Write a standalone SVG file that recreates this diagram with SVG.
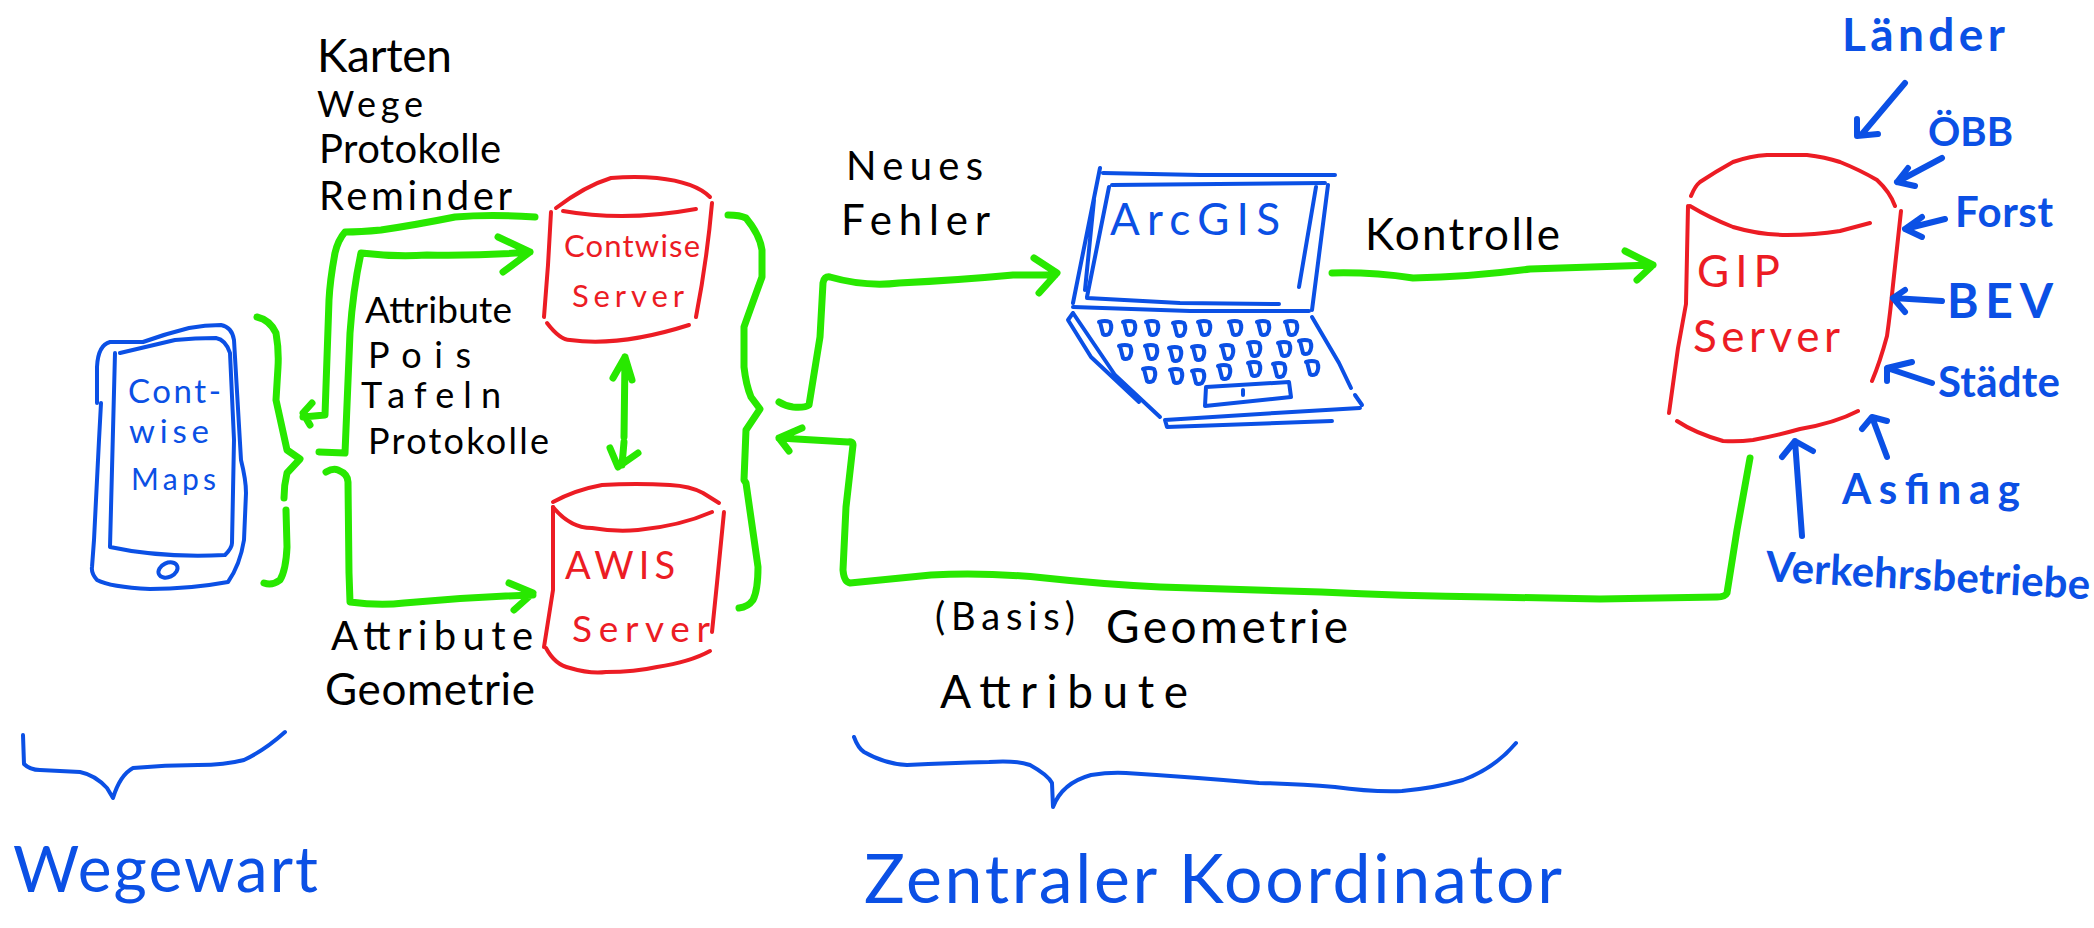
<svg xmlns="http://www.w3.org/2000/svg" xmlns:xlink="http://www.w3.org/1999/xlink" width="2094" height="928" viewBox="0 0 2094 928">
<style>
text{font-family:"Lato","Liberation Sans",sans-serif}
.k{fill:#000}.r{fill:#ec1c24}.b{fill:#0b50e5}.bb{fill:#0b50e5;font-weight:700}
path,ellipse{fill:none;stroke-linecap:round;stroke-linejoin:round}
.sr{stroke:#ec1c24;stroke-width:4}
.sb{stroke:#0b50e5;stroke-width:4}
.sbt{stroke:#0b50e5;stroke-width:6}
.sg{stroke:#28e800;stroke-width:7}
</style>
<defs>
<path id="key" class="sb" d="M-6 -6Q0 -8 5 -6Q8 0 4 6Q0 8 -2 6L-5 -6"/>
</defs>
<rect width="2094" height="928" fill="#fff"/>

<g id="connectors">
<path class="sg" d="M535 217Q490 214 455 217Q415 225 381 230Q360 232 345 232Q338 240 335 253Q330 280 329 300L325 415L303 417M312 403L303 413L310 425"/>
<path class="sg" d="M319 452L345 453L350 333Q353 290 361 253Q395 257 427 255Q480 256 530 252M498 237L530 252L503 272"/>
<path class="sg" d="M326 472Q333 468 338 470Q348 474 348 482L349 573L350 602Q380 606 404 603Q470 597 533 595M509 583L533 593L514 610"/>
<path class="sg" d="M625 357L624 437M624 442L622 465M613 378L625 357L632 380M610 448L618 467L638 453"/>
<path class="sg" d="M779 402Q785 406 793 407Q805 408 809 405L820 337L823 283Q824 276 830 277Q865 287 899 283Q960 280 1013 275L1055 275M1034 258L1057 273L1039 293"/>
<path class="sg" d="M1332 273Q1372 272 1413 278Q1470 277 1530 269L1653 265M1625 251L1653 265L1637 280"/>
<path class="sg" d="M1750 458L1737 530L1727 593Q1725 597 1717 597L1600 599L1490 597Q1400 596 1321 592L1160 587Q1100 584 1045 578Q985 572 931 575L850 583Q844 582 843 570L846 507L853 445Q853 441 848 442L779 438M802 428L779 438L789 451"/>
</g>

<g id="phone">
<path class="sb" d="M97 403L97 367Q98 345 110 342L143 342Q165 334 189 328Q205 325 221 325Q232 327 234 340L241 460Q246 480 246 493L244 540Q240 565 228 582Q190 589 150 589Q110 587 97 580Q91 573 92 567L94 540L99 440L101 403"/>
<path class="sb" d="M115 353L110 547Q160 558 225 555Q232 548 232 543L234 440L230 353Q226 340 216 338Q195 338 175 340L120 353"/>
<ellipse class="sb" cx="168" cy="570" rx="10" ry="7" transform="rotate(-25 168 570)"/>
<text class="b" x="128" y="403" font-size="33" textLength="93">Cont-</text>
<text class="b" x="129" y="443" font-size="33" textLength="80">wise</text>
<text class="b" x="131" y="490" font-size="30" textLength="85">Maps</text>
</g>

<g id="brace-phone">
<path class="sg" d="M257 317Q270 320 276 333Q279 350 278 367L276 400L287 450L300 459L287 473Q284 485 284 498M286 510L287 547Q286 570 280 580Q272 586 264 583"/>
</g>
<g id="brace-servers">
<path class="sg" d="M728 215Q740 215 746 218Q760 235 762 250L762 277Q750 310 744 327L744 367Q746 385 751 397L760 409L746 430L744 480L746 483L758 567Q758 590 753 600Q748 607 739 608"/>
</g>

<g id="contwise-server">
<path class="sr" d="M551 212L548 265L544 317"/>
<path class="sr" d="M556 208Q585 186 611 178Q635 176 657 178Q695 182 710 197"/>
<path class="sr" d="M563 211Q625 222 696 209"/>
<path class="sr" d="M712 203Q707 260 696 317"/>
<path class="sr" d="M547 323Q560 340 570 340Q620 347 689 325"/>
<text class="r" x="564" y="257" font-size="31" textLength="136">Contwise</text>
<text class="r" x="572" y="307" font-size="31" textLength="112">Server</text>
</g>

<g id="awis-server">
<path class="sr" d="M553 502Q575 490 602 485Q636 483 670 485Q690 486 703 493L719 503"/>
<path class="sr" d="M553 507Q570 528 592 528Q615 532 638 530Q680 526 712 512"/>
<path class="sr" d="M553 507L553 590L544 647"/>
<path class="sr" d="M724 512L717 583L712 632"/>
<path class="sr" d="M546 648Q555 665 570 668Q590 674 606 672Q635 672 657 667Q690 662 710 651"/>
<text class="r" x="565" y="579" font-size="38" textLength="110">AWIS</text>
<text class="r" x="572" y="642" font-size="37" textLength="138">Server</text>
</g>

<g id="laptop">
<path class="sb" d="M1100 168L1073 303M1094 200L1085 290M1103 173L1200 175L1335 175M1328 185L1312 310"/>
<path class="sb" d="M1112 185L1325 183M1109 187L1087 297M1087 298L1180 303L1279 304M1316 187L1299 287"/>
<path class="sb" d="M1073 307L1190 311L1309 311"/>
<path class="sb" d="M1073 313L1115 375L1160 417M1073 313L1068 320L1091 357L1139 402"/>
<path class="sb" d="M1312 317L1339 363L1351 388M1355 395L1362 405"/>
<path class="sb" d="M1360 408L1275 413L1165 420L1167 427L1332 421"/>
<path class="sb" d="M1206 387L1289 382L1291 397L1205 406Z"/>
<path class="sb" d="M1243 390L1243 395"/>
<use href="#key" x="1105" y="328"/><use href="#key" x="1129" y="328"/><use href="#key" x="1152" y="328"/><use href="#key" x="1179" y="329"/><use href="#key" x="1204" y="328"/><use href="#key" x="1235" y="328"/><use href="#key" x="1263" y="328"/><use href="#key" x="1291" y="328"/>
<use href="#key" x="1125" y="352"/><use href="#key" x="1151" y="352"/><use href="#key" x="1175" y="354"/><use href="#key" x="1198" y="353"/><use href="#key" x="1227" y="352"/><use href="#key" x="1254" y="349"/><use href="#key" x="1284" y="349"/><use href="#key" x="1305" y="347"/>
<use href="#key" x="1149" y="375"/><use href="#key" x="1176" y="376"/><use href="#key" x="1198" y="377"/><use href="#key" x="1224" y="372"/><use href="#key" x="1254" y="369"/><use href="#key" x="1279" y="370"/><use href="#key" x="1312" y="368"/>
<text class="b" x="1110" y="235" font-size="44" textLength="170">ArcGIS</text>
</g>

<g id="gip-server">
<path class="sr" d="M1691 196Q1695 186 1700 182Q1715 172 1733 162Q1750 156 1767 155L1807 155Q1825 157 1840 162Q1860 170 1877 180Q1890 192 1895 206"/>
<path class="sr" d="M1690 206Q1710 218 1733 227Q1760 235 1787 235Q1815 235 1840 231L1870 223"/>
<path class="sr" d="M1688 206L1686 304L1678 348L1669 413"/>
<path class="sr" d="M1901 211L1893 285Q1890 315 1887 336Q1880 362 1872 381"/>
<path class="sr" d="M1677 421Q1695 433 1723 441Q1738 442 1753 440Q1775 436 1800 429Q1835 423 1858 411"/>
<text class="r" x="1697" y="287" font-size="44" textLength="83">GIP</text>
<text class="r" x="1693" y="352" font-size="44" textLength="147">Server</text>
</g>

<g id="sources">
<path class="sbt" d="M1905 83L1862 134M1857 119L1857 136L1878 134"/>
<path class="sbt" d="M1942 158L1897 182M1908 168L1897 182L1915 186"/>
<path class="sbt" d="M1945 219L1905 229M1922 217L1905 229L1922 237"/>
<path class="sbt" d="M1942 301L1893 298M1905 290L1893 298L1905 312"/>
<path class="sbt" d="M1932 383L1887 368M1912 362L1887 368L1887 381"/>
<path class="sbt" d="M1887 457L1872 417M1862 429L1872 417L1887 421"/>
<path class="sbt" d="M1802 536L1795 441M1782 457L1795 441L1813 451"/>
<text class="bb" x="1842" y="51" font-size="46" textLength="163">Länder</text>
<text class="bb" x="1928" y="146" font-size="40" textLength="85">ÖBB</text>
<text class="bb" x="1955" y="227" font-size="42" textLength="98">Forst</text>
<text class="bb" x="1947" y="318" font-size="48" textLength="106">BEV</text>
<text class="bb" x="1938" y="397" font-size="42" textLength="122">Städte</text>
<text class="bb" x="1842" y="504" font-size="42" textLength="178">Asfinag</text>
<text class="bb" x="1765" y="581" font-size="42" textLength="325" transform="rotate(3.2 1765 581)">Verkehrsbetriebe</text>
</g>

<g id="labels">
<text class="k" x="317" y="72" font-size="46" textLength="135">Karten</text>
<text class="k" x="317" y="117" font-size="36" textLength="106">Wege</text>
<text class="k" x="319" y="163" font-size="40" textLength="182">Protokolle</text>
<text class="k" x="319" y="210" font-size="40" textLength="193">Reminder</text>
<text class="k" x="365" y="323" font-size="37" textLength="147">Attribute</text>
<text class="k" x="368" y="368" font-size="36" textLength="103">Pois</text>
<text class="k" x="361" y="408" font-size="36" textLength="140">Tafeln</text>
<text class="k" x="368" y="454" font-size="36" textLength="181">Protokolle</text>
<text class="k" x="331" y="650" font-size="40" textLength="202">Attribute</text>
<text class="k" x="325" y="705" font-size="44" textLength="210">Geometrie</text>
<text class="k" x="846" y="180" font-size="40" textLength="137">Neues</text>
<text class="k" x="841" y="235" font-size="42" textLength="149">Fehler</text>
<text class="k" x="1365" y="250" font-size="44" textLength="195">Kontrolle</text>
<text class="k" x="935" y="630" font-size="38" textLength="140">(Basis)</text>
<text class="k" x="1106" y="643" font-size="46" textLength="242">Geometrie</text>
<text class="k" x="940" y="708" font-size="46" textLength="248">Attribute</text>
</g>

<g id="brace-wegewart">
<path class="sb" d="M23 735L24 764Q30 770 40 770Q60 771 80 772Q95 775 107 788L113 798Q120 775 133 768Q165 765 198 765Q225 765 244 760Q265 750 285 732"/>
<text class="b" x="13" y="892" font-size="64" textLength="305">Wegewart</text>
</g>
<g id="brace-koordinator">
<path class="sb" d="M854 737Q858 748 864 752Q885 764 907 765Q950 763 989 762Q1015 760 1030 765Q1048 775 1052 783L1053 807Q1062 783 1091 775Q1110 772 1126 773Q1190 777 1259 783Q1300 784 1335 787Q1370 792 1402 791Q1435 788 1463 780Q1495 768 1516 743"/>
<text class="b" x="864" y="903" font-size="68" textLength="698">Zentraler Koordinator</text>
</g>
</svg>
